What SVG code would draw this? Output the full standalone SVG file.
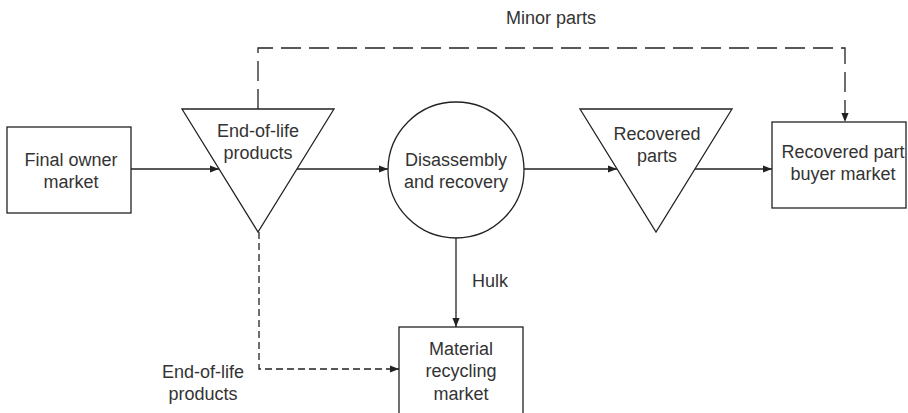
<svg xmlns="http://www.w3.org/2000/svg" width="908" height="413" viewBox="0 0 908 413">
  <style>
    .shape { fill: #fff; stroke: #222; stroke-width: 1.3; }
    .line { fill: none; stroke: #222; stroke-width: 1.3; }
    .dash-long { stroke-dasharray: 20 8; }
    .dash-short { stroke-dasharray: 7 4; }
    text { font-family: "Liberation Sans", Arial, sans-serif; font-size: 18px; fill: #333; text-anchor: middle; }
  </style>
  <defs>
    <marker id="arrow" viewBox="0 0 10 10" refX="10" refY="5" markerWidth="9" markerHeight="9" markerUnits="userSpaceOnUse" orient="auto">
      <path d="M0,1 L10,5 L0,9 Z" fill="#222"/>
    </marker>
  </defs>
  <rect width="908" height="413" fill="#fff"/>

  <g id="connectors">
    <line class="line" x1="131" y1="169" x2="219" y2="169" marker-end="url(#arrow)"/>
    <line class="line" x1="297" y1="169" x2="388" y2="169" marker-end="url(#arrow)"/>
    <line class="line" x1="524" y1="169" x2="617" y2="169" marker-end="url(#arrow)"/>
    <line class="line" x1="695" y1="169" x2="772" y2="169" marker-end="url(#arrow)"/>
    <line class="line" x1="456" y1="238" x2="456" y2="327" marker-end="url(#arrow)"/>
    <path class="line dash-long" d="M258,109 V48 H845 V122" marker-end="url(#arrow)"/>
    <path class="line dash-short" d="M259,232 V369 H399" marker-end="url(#arrow)"/>
    <text x="551" y="24">Minor parts</text>
    <text x="472" y="287" style="text-anchor:start">Hulk</text>
    <text x="203" y="378">End-of-life</text>
    <text x="203" y="400">products</text>
  </g>

  <g id="final-owner-market">
    <rect class="shape" x="7" y="127" width="124" height="86"/>
    <text x="71" y="166">Final owner</text>
    <text x="71" y="188">market</text>
  </g>

  <g id="end-of-life-products">
    <polygon class="shape" points="182,109 334,109 258,232"/>
    <text x="258" y="137">End-of-life</text>
    <text x="258" y="159">products</text>
  </g>

  <g id="disassembly-and-recovery">
    <circle class="shape" cx="456" cy="170" r="68"/>
    <text x="456" y="166">Disassembly</text>
    <text x="456" y="188">and recovery</text>
  </g>

  <g id="recovered-parts">
    <polygon class="shape" points="580,109 732,109 656,232"/>
    <text x="657" y="140">Recovered</text>
    <text x="657" y="162">parts</text>
  </g>

  <g id="recovered-part-buyer-market">
    <rect class="shape" x="772" y="122" width="134" height="86"/>
    <text x="843" y="158">Recovered part</text>
    <text x="843" y="180">buyer market</text>
  </g>

  <g id="material-recycling-market">
    <rect class="shape" x="399" y="327" width="124" height="100"/>
    <text x="461" y="355">Material</text>
    <text x="461" y="377">recycling</text>
    <text x="461" y="400">market</text>
  </g>
</svg>
